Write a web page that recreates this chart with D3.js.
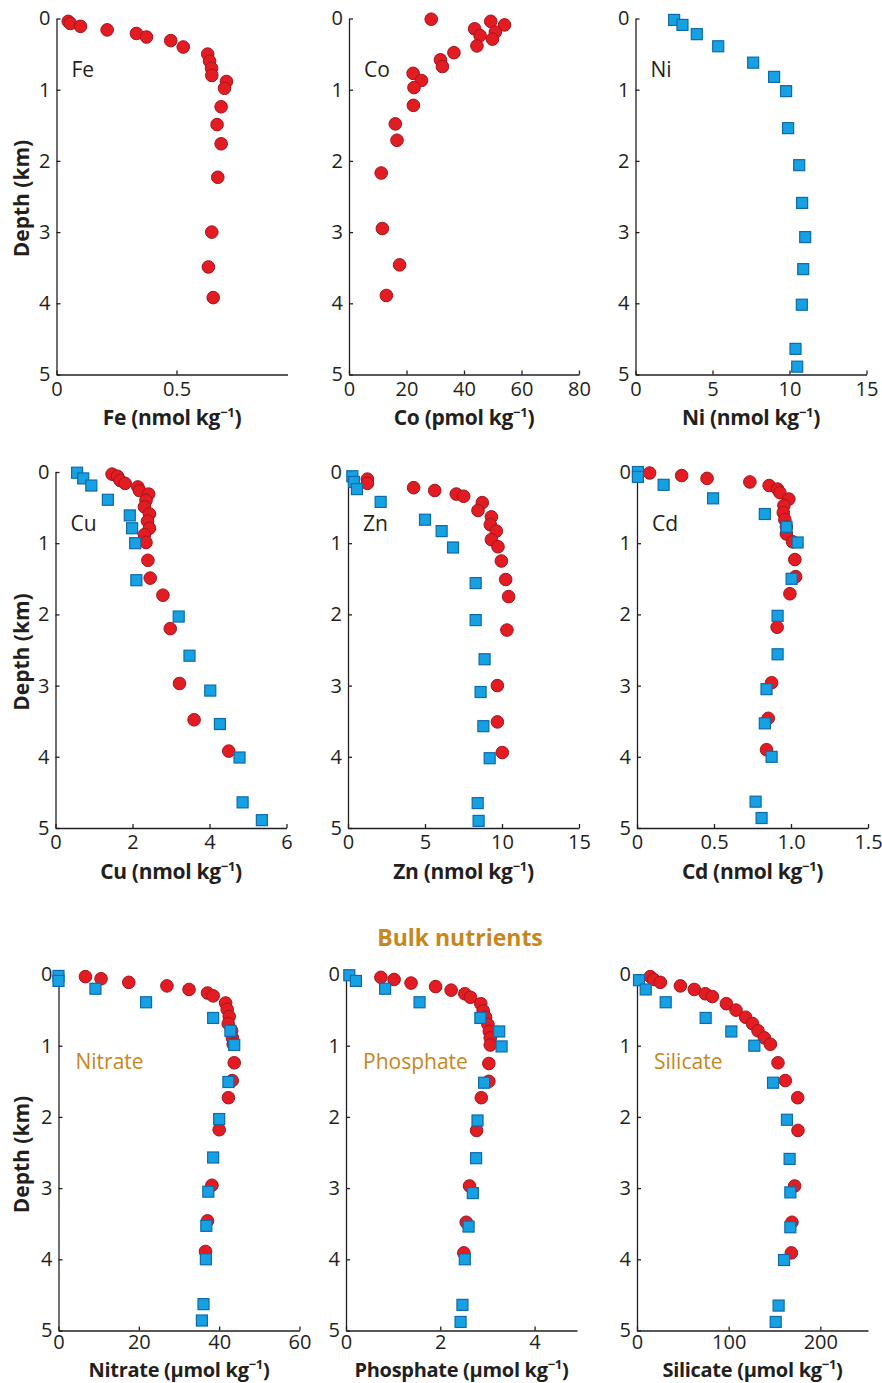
<!DOCTYPE html>
<html>
<head>
<meta charset="utf-8">
<script src="https://cdn.jsdelivr.net/npm/d3@7"></script>
<style>
  body { margin: 0; background: #fff; }
  svg { display: block; font-family: "Open Sans", sans-serif; }
</style>
</head>
<body>
<div class="viz"></div>
<script>
// data: [concentration, depth km]
var depthTicks = [0, 1, 2, 3, 4, 5];

var feRed = [[0.049,0.04],[0.058,0.07],[0.10,0.11],[0.211,0.16],[0.333,0.21],[0.375,0.26],[0.476,0.31],[0.528,0.40],[0.63,0.50],[0.638,0.60],[0.646,0.70],[0.647,0.80],[0.708,0.885],[0.70,0.98],[0.686,1.24],[0.669,1.49],[0.686,1.76],[0.672,2.23],[0.647,3.0],[0.633,3.49],[0.653,3.92]];
var coRed = [[28.6,0.01],[49.3,0.04],[54.1,0.09],[43.7,0.145],[50.9,0.19],[45.6,0.24],[49.9,0.29],[44.5,0.385],[36.5,0.48],[31.8,0.58],[32.5,0.675],[22.3,0.77],[25.2,0.87],[22.6,0.97],[22.4,1.22],[16.1,1.48],[16.7,1.71],[11.2,2.17],[11.6,2.95],[17.6,3.46],[13.0,3.89]];
var niBlue = [[2.51,0.02],[3.05,0.09],[3.98,0.22],[5.37,0.39],[7.64,0.62],[9.0,0.82],[9.78,1.02],[9.91,1.54],[10.63,2.06],[10.82,2.59],[11.02,3.07],[10.89,3.52],[10.8,4.02],[10.39,4.64],[10.5,4.89]];

var cuRed = [[1.47,0.03],[1.61,0.06],[1.68,0.12],[1.81,0.16],[2.14,0.21],[2.18,0.26],[2.42,0.31],[2.35,0.40],[2.31,0.49],[2.44,0.59],[2.39,0.69],[2.44,0.79],[2.31,0.88],[2.35,0.99],[2.40,1.24],[2.46,1.49],[2.79,1.73],[2.98,2.20],[3.22,2.97],[3.60,3.48],[4.50,3.92]];
var cuBlue = [[0.56,0.01],[0.72,0.09],[0.93,0.19],[1.36,0.39],[1.93,0.61],[1.99,0.79],[2.07,1.0],[2.10,1.52],[3.20,2.03],[3.48,2.58],[4.02,3.07],[4.27,3.54],[4.78,4.01],[4.86,4.64],[5.36,4.89]];
var znRed = [[1.26,0.10],[1.26,0.16],[4.26,0.22],[5.63,0.26],[7.03,0.31],[7.51,0.34],[8.72,0.43],[8.44,0.54],[9.31,0.63],[9.24,0.74],[9.63,0.83],[9.31,0.95],[9.74,1.05],[9.96,1.25],[10.24,1.51],[10.43,1.75],[10.32,2.22],[9.70,3.00],[9.70,3.51],[10.02,3.94]];
var znBlue = [[0.28,0.06],[0.39,0.14],[0.58,0.24],[2.12,0.42],[5.0,0.67],[6.08,0.83],[6.82,1.06],[8.29,1.56],[8.29,2.08],[8.87,2.63],[8.61,3.09],[8.79,3.57],[9.2,4.02],[8.42,4.65],[8.48,4.90]];
var cdRed = [[0.082,0.014],[0.29,0.05],[0.455,0.09],[0.733,0.14],[0.858,0.19],[0.913,0.24],[0.928,0.29],[0.986,0.38],[0.954,0.47],[0.95,0.57],[0.96,0.67],[0.97,0.77],[0.97,0.87],[1.01,0.98],[1.025,1.23],[1.03,1.47],[0.993,1.71],[0.91,2.18],[0.874,2.96],[0.852,3.46],[0.841,3.90]];
var cdBlue = [[0.006,0.0],[0.006,0.07],[0.173,0.18],[0.494,0.37],[0.83,0.59],[0.971,0.77],[1.043,0.99],[1.004,1.50],[0.913,2.02],[0.913,2.56],[0.841,3.05],[0.83,3.53],[0.874,4.0],[0.77,4.63],[0.809,4.86]];

var no3Red = [[6.7,0.03],[10.6,0.06],[17.5,0.11],[27.0,0.16],[32.5,0.21],[37.1,0.26],[38.5,0.30],[41.6,0.40],[42.0,0.49],[42.5,0.59],[42.25,0.69],[43.1,0.79],[43.3,0.89],[43.5,0.98],[43.75,1.24],[43.25,1.49],[42.3,1.73],[40.0,2.18],[38.2,2.96],[37.1,3.46],[36.6,3.89]];
var no3Blue = [[0,0.02],[0,0.09],[9.2,0.20],[21.8,0.39],[38.5,0.61],[42.8,0.79],[43.75,0.99],[42.3,1.51],[40.0,2.03],[38.5,2.57],[37.3,3.05],[36.8,3.53],[36.7,4.0],[36.1,4.63],[35.7,4.86]];
var po4Red = [[0.74,0.04],[1.02,0.07],[1.38,0.12],[1.90,0.17],[2.23,0.22],[2.52,0.27],[2.64,0.32],[2.86,0.41],[2.91,0.51],[2.96,0.60],[3.01,0.70],[3.04,0.80],[3.06,0.89],[3.06,0.99],[3.03,1.25],[3.03,1.50],[2.87,1.73],[2.77,2.19],[2.62,2.97],[2.55,3.48],[2.50,3.91]];
var po4Blue = [[0.07,0.01],[0.21,0.09],[0.83,0.20],[1.56,0.39],[2.85,0.61],[3.25,0.80],[3.30,1.01],[2.93,1.52],[2.79,2.05],[2.76,2.58],[2.69,3.07],[2.60,3.54],[2.52,4.0],[2.47,4.64],[2.43,4.88]];
var sioRed = [[14.5,0.03],[18.2,0.07],[25.5,0.11],[47.3,0.16],[62.5,0.21],[74.5,0.27],[82.2,0.31],[97.5,0.41],[108,0.50],[118.5,0.60],[126,0.69],[132,0.79],[139,0.89],[145.5,0.98],[153.8,1.24],[161.8,1.49],[175.3,1.73],[175.6,2.19],[172,2.97],[169,3.48],[168.4,3.91]];
var sioBlue = [[2.2,0.08],[9.5,0.21],[31.3,0.39],[74.9,0.61],[102.9,0.80],[128,1.0],[148.4,1.52],[163.6,2.04],[166.5,2.59],[167.3,3.06],[167.3,3.55],[160.4,4.01],[154.5,4.65],[151.3,4.88]];

var w = 882, h = 1383;
var plotH = 356;
var rowTop = [18.5, 472, 974.5];
var titleGap = [50, 51, 46];
var tickPad = [7, 7, 4];
var orange = "#c8861c";
var ink = "#231f20";

var oneDec = function(d) { return d === 0 ? "0" : d3.format(".1f")(d); };

var panels = [
  {name: "Fe", unit: "nmol", row: 0, x0: 56.5, width: 231, max: 0.9625, ticks: [0, 0.5], fmt: oneDec, red: feRed, blue: []},
  {name: "Co", unit: "pmol", row: 0, x0: 349, width: 230, max: 80, ticks: [0, 20, 40, 60, 80], red: coRed, blue: []},
  {name: "Ni", unit: "nmol", row: 0, x0: 635.5, width: 231, max: 15, ticks: [0, 5, 10, 15], red: [], blue: niBlue},
  {name: "Cu", unit: "nmol", row: 1, x0: 55.5, width: 231, max: 6, ticks: [0, 2, 4, 6], red: cuRed, blue: cuBlue},
  {name: "Zn", unit: "nmol", row: 1, x0: 348, width: 231, max: 15, ticks: [0, 5, 10, 15], red: znRed, blue: znBlue},
  {name: "Cd", unit: "nmol", row: 1, x0: 637, width: 231, max: 1.5, ticks: [0, 0.5, 1.0, 1.5], fmt: oneDec, red: cdRed, blue: cdBlue},
  {name: "Nitrate", unit: "µmol", row: 2, x0: 58.5, width: 241, max: 60, ticks: [0, 20, 40, 60], red: no3Red, blue: no3Blue, nutrient: true},
  {name: "Phosphate", unit: "µmol", row: 2, x0: 346, width: 231, max: 4.9, ticks: [0, 2, 4], red: po4Red, blue: po4Blue, nutrient: true},
  {name: "Silicate", unit: "µmol", row: 2, x0: 637, width: 231, max: 252, ticks: [0, 100, 200], red: sioRed, blue: sioBlue, nutrient: true}
];

var svg = d3.select(".viz")
  .append("svg")
  .attr("width", w)
  .attr("height", h);

svg.append("rect").attr("width", w).attr("height", h).attr("fill", "#fff");

var yScale = d3.scaleLinear().domain([0, 5]).range([0, plotH]);

panels.forEach(function(p) {
  var top = rowTop[p.row];
  var xScale = d3.scaleLinear().domain([0, p.max]).range([0, p.width]);
  var g = svg.append("g").attr("transform", "translate(" + p.x0 + "," + top + ")");

  var xaxis = d3.axisBottom(xScale)
    .tickValues(p.ticks)
    .tickFormat(p.fmt || d3.format("d"))
    .tickSizeInner(-4)
    .tickSizeOuter(0)
    .tickPadding(tickPad[p.row]);

  var yaxis = d3.axisLeft(yScale)
    .tickValues(depthTicks)
    .tickFormat(d3.format("d"))
    .tickSizeInner(-4)
    .tickSizeOuter(0)
    .tickPadding(6);

  var gx = g.append("g").attr("transform", "translate(0," + plotH + ")").call(xaxis);
  var gy = g.append("g").call(yaxis);
  [gx, gy].forEach(function(a) {
    a.selectAll("path, line").attr("stroke", ink).attr("stroke-width", 1.3);
    a.selectAll("text").attr("fill", ink).attr("font-size", 20).attr("font-family", "Open Sans, sans-serif");
  });

  // circles
  g.selectAll("circle")
    .data(p.red)
    .enter()
    .append("circle")
    .attr("cx", function(d) { return xScale(d[0]); })
    .attr("cy", function(d) { return yScale(d[1]); })
    .attr("r", 6.3)
    .attr("fill", "#e31b23")
    .attr("stroke", "#a3161c")
    .attr("stroke-width", 1);

  // squares
  var s = 11;
  g.selectAll("rect.sq")
    .data(p.blue)
    .enter()
    .append("rect")
    .attr("class", "sq")
    .attr("x", function(d) { return xScale(d[0]) - s / 2; })
    .attr("y", function(d) { return yScale(d[1]) - s / 2; })
    .attr("width", s)
    .attr("height", s)
    .attr("fill", "#16a2e2")
    .attr("stroke", "#0d6aab")
    .attr("stroke-width", 1.2);

  // panel label
  g.append("text")
    .attr("x", p.nutrient ? 17 : 15)
    .attr("y", p.nutrient ? 94.5 : 58.5)
    .attr("font-size", 21)
    .attr("fill", p.nutrient ? orange : ink)
    .text(p.name);

  // x title
  var t = g.append("text")
    .attr("x", p.width / 2)
    .attr("y", plotH + titleGap[p.row])
    .attr("text-anchor", "middle")
    .attr("font-size", p.row === 2 ? 20 : 21)
    .attr("font-weight", "bold")
    .attr("letter-spacing", -0.3)
    .attr("fill", ink);
  t.append("tspan").text(p.name + " (" + p.unit + " kg");
  t.append("tspan").attr("font-size", 13).attr("dy", -8).text("\u22121");
  t.append("tspan").attr("dy", 8).text(")");
});

// depth titles
rowTop.forEach(function(top) {
  svg.append("text")
    .attr("transform", "translate(29," + (top + plotH / 2 + 2) + ") rotate(-90)")
    .attr("text-anchor", "middle")
    .attr("font-size", 21)
    .attr("font-weight", "bold")
    .attr("fill", ink)
    .text("Depth (km)");
});

svg.append("text")
  .attr("x", 460)
  .attr("y", 946)
  .attr("text-anchor", "middle")
  .attr("font-size", 23)
  .attr("font-weight", "bold")
  .attr("fill", orange)
  .text("Bulk nutrients");
</script>
</body>
</html>
